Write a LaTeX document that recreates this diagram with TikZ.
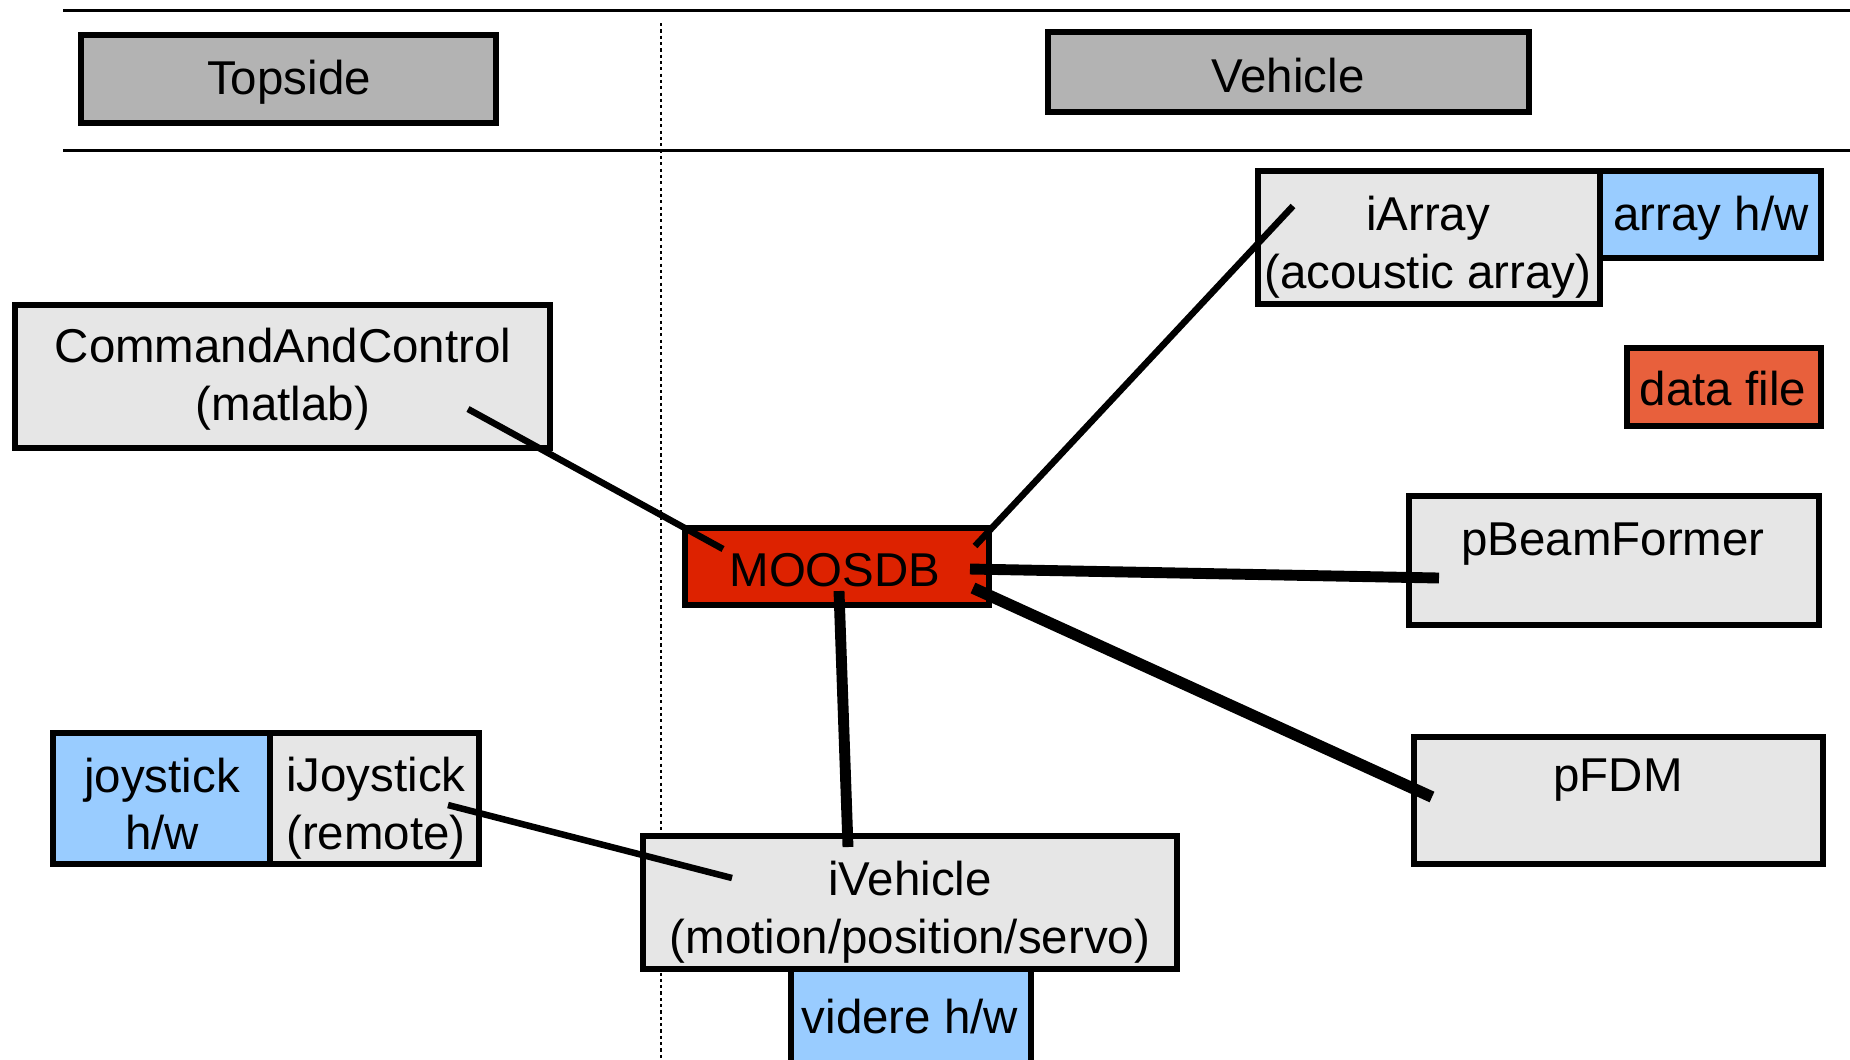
\documentclass[tikz,border=0pt]{standalone}
\usepackage{fontspec}
\setmainfont{Liberation Sans}
\usetikzlibrary{fit}
\definecolor{hdrgray}{RGB}{179,179,179}
\definecolor{procgray}{RGB}{230,230,230}
\definecolor{hwblue}{RGB}{153,204,255}
\definecolor{dbred}{RGB}{221,34,0}
\definecolor{fileorange}{RGB}{232,96,60}
\tikzset{
  box/.style={draw=black, line width=1.9pt, inner sep=0pt, outer sep=0pt},
  hdrbox/.style={box, fill=hdrgray},
  procbox/.style={box, fill=procgray},
  hwbox/.style={box, fill=hwblue},
  dbbox/.style={box, fill=dbred},
  filebox/.style={box, fill=fileorange},
  lbl/.style={font=\fontsize{13.5pt}{16.4pt}\selectfont, align=center, inner sep=0pt},
  thinlink/.style={line width=1.85pt, line cap=butt},
  thicklink/.style={line width=3.1pt, line cap=butt},
  rule/.style={line width=0.85pt},
  divider/.style={line width=0.55pt, dash pattern=on 0.9pt off 0.9pt}
}
\begin{document}
\begin{tikzpicture}[x=0.01cm, y=-0.01cm]
\useasboundingbox (0,0) rectangle (1850,1059);
\begin{scope}
\clip (0,0) rectangle (1850,1059);

% header rules and the topside/vehicle divider
\coordinate (r1w) at (63,10);   \coordinate (r1e) at (1850,10);
\coordinate (r2w) at (63,150);  \coordinate (r2e) at (1850,150);
\coordinate (dvt) at (661,23);  \coordinate (dvb) at (661,1059);
\draw[rule] (r1w) -- (r1e);
\draw[rule] (r2w) -- (r2e);
\draw[divider] (dvt) -- (dvb);

% section headers
\node[hdrbox, fit={(81,35) (496,123)}] (topside) {};
\node[lbl] (topside-t) at (289,82) {Topside};
\node[hdrbox, fit={(1048,32) (1529,112)}] (vehicle) {};
\node[lbl] (vehicle-t) at (1288,76) {Vehicle};

% processes and hardware
\node[procbox, fit={(1258,171) (1600,304)}] (iarray) {};
\node[lbl] (iarray-t) at (1428,247) {iArray\\(acoustic array)};
\node[hwbox, fit={(1600,171) (1821,258)}] (arrayhw) {};
\node[lbl] (arrayhw-t) at (1711,218) {array h/w};
\node[filebox, fit={(1627,348) (1821,426)}] (datafile) {};
\node[lbl] (datafile-t) at (1723,389) {data file};

\node[procbox, fit={(15,305) (550,448)}] (cac) {};
\node[lbl] (cac-t) at (283,379) {CommandAndControl\\(matlab)};

\node[dbbox, fit={(685,528) (989,605)}] (moosdb) {};
\node[lbl] (moosdb-t) at (835,570) {MOOSDB};

\node[procbox, fit={(1409,496) (1819,625)}] (pbf) {};
\node[lbl] (pbf-t) at (1613,544) {pBeamFormer};
\node[procbox, fit={(1414,737) (1823,864)}] (pfdm) {};
\node[lbl] (pfdm-t) at (1618,780) {pFDM};

\node[hwbox, fit={(53,733) (270,864)}] (joyhw) {};
\node[lbl] (joyhw-t) at (162,804) {joystick\\h/w};
\node[procbox, fit={(270,733) (479,864)}] (ijoy) {};
\node[lbl] (ijoy-t) at (376,808) {iJoystick\\(remote)};

\node[hwbox, fit={(791,969) (1031,1090)}] (videre) {};
\node[lbl] (videre-t) at (910,1017) {videre h/w};
\node[procbox, fit={(643,836) (1177,969)}] (ivehicle) {};
\node[lbl] (ivehicle-t) at (910,912) {iVehicle\\(motion/position/servo)};

% connector end points
\coordinate (cac-end) at (468,409);
\coordinate (moos-cac) at (723,549);
\coordinate (iarray-end) at (1293,206);
\coordinate (moos-iarray) at (975,546);
\coordinate (moos-pbf) at (970,569);
\coordinate (pbf-end) at (1439,578);
\coordinate (moos-pfdm) at (973,588);
\coordinate (pfdm-end) at (1432,797);
\coordinate (moos-iveh) at (839,591);
\coordinate (iveh-top) at (848,847);
\coordinate (ijoy-end) at (448,805);
\coordinate (iveh-joy) at (732,878);

% connections to the database
\draw[thinlink] (cac-end) -- (moos-cac);
\draw[thinlink] (iarray-end) -- (moos-iarray);
\draw[thicklink] (moos-pbf) -- (pbf-end);
\draw[thicklink, line width=3.3pt] (moos-pfdm) -- (pfdm-end);
\draw[thicklink] (moos-iveh) -- (iveh-top);
\draw[thinlink] (ijoy-end) -- (iveh-joy);
\end{scope}
\end{tikzpicture}
\end{document}
